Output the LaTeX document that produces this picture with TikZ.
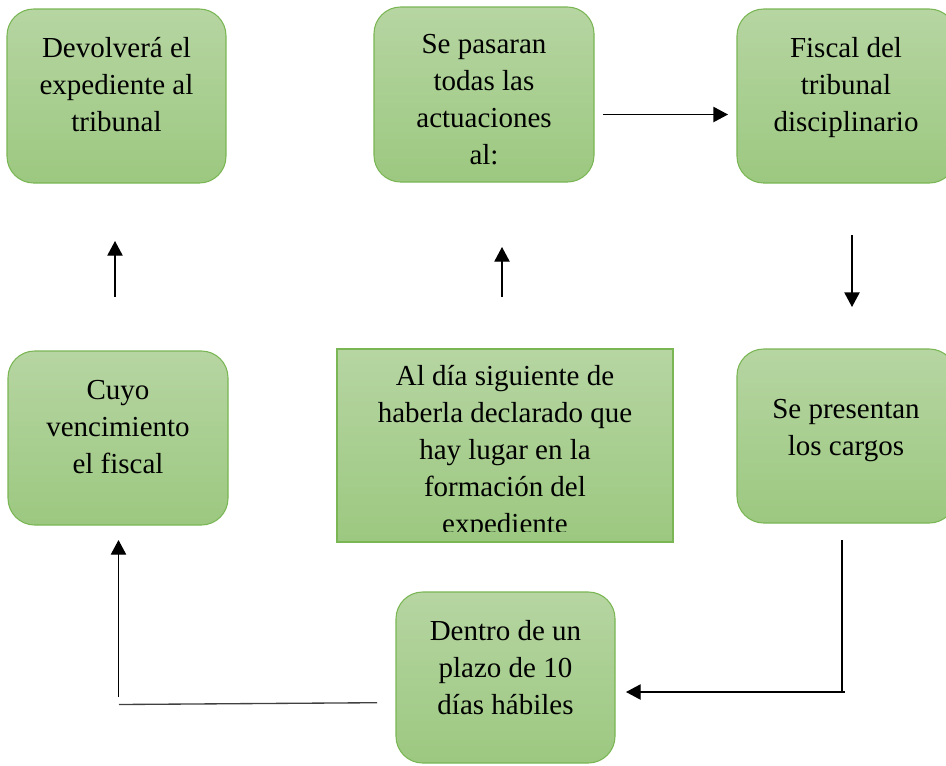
\documentclass[tikz,border=0pt]{standalone}
\usepackage{fontspec}
\setmainfont{Liberation Serif}
\usetikzlibrary{arrows.meta}
\definecolor{gtop}{RGB}{182,213,162}
\definecolor{gbot}{RGB}{156,200,128}
\definecolor{gborder}{RGB}{122,182,84}
\tikzset{
  box/.style={rectangle, rounded corners=20pt, draw=gborder, line width=0.8pt,
    top color=gtop, bottom color=gbot, inner sep=0pt},
  sqbox/.style={rectangle, draw=gborder, line width=0.8pt,
    top color=gtop, bottom color=gbot, inner sep=0pt},
  txt/.style={anchor=north, align=center, inner sep=0pt,
    font=\fontsize{21.75pt}{27.75pt}\selectfont},
  conn/.style={line width=1pt, black},
  arr/.style={conn, -{Triangle[length=11pt,width=11.5pt]}}
}
\begin{document}
\begin{tikzpicture}[x=0.75pt,y=-0.75pt]
\clip (0,0) rectangle (946,765);
\fill[white] (0,0) rectangle (946,765);
% boxes
\node[box, minimum width=164.25pt, minimum height=130.5pt] (A) at (116.5,96) {};
\node[box, minimum width=165pt, minimum height=131.25pt] (B) at (484,94.5) {};
\node[box, minimum width=164.25pt, minimum height=130.5pt] (C) at (846.5,96) {};
\node[box, minimum width=165pt, minimum height=130.5pt] (D) at (118,438) {};
\node[sqbox, minimum width=252pt, minimum height=144.75pt] (E) at (505,445.5) {};
\node[box, minimum width=164.25pt, minimum height=130.5pt] (F) at (846.5,436) {};
\node[box, minimum width=164.25pt, minimum height=128.25pt] (G) at (505.5,677.5) {};
% texts
\node[txt] (tA) at (116.5,31) {\strut Devolverá el\\expediente al\\tribunal};
\node[txt] (tB) at (484,27) {\strut Se pasaran\\todas las\\actuaciones\\al:};
\node[txt] (tC) at (846,31) {\strut Fiscal del\\tribunal\\disciplinario};
\node[txt] (tD) at (118,373) {\strut Cuyo\\vencimiento\\el fiscal};
\begin{scope}
\clip (337,349) rectangle (673,531);
\node[txt] (tE) at (505,359) {\strut Al día siguiente de\\haberla declarado que\\hay lugar en la\\formación del\\expediente};
\end{scope}
\node[txt] (tF) at (846,392) {\strut Se presentan\\los cargos};
\node[txt] (tG) at (505.5,614) {\strut Dentro de un\\plazo de 10\\días hábiles};
% connector coordinates
\coordinate (r1) at (603,114.5);
\coordinate (r2) at (728,114.5);
\coordinate (d1) at (852,235);
\coordinate (d2) at (852,307);
\coordinate (u1a) at (115,297);
\coordinate (u1b) at (115,241);
\coordinate (u2a) at (502,297);
\coordinate (u2b) at (502,247);
\coordinate (v1) at (842,540);
\coordinate (v2) at (842,693);
\coordinate (h1) at (845,692);
\coordinate (h2) at (626,692);
\coordinate (l1) at (377,702.7);
\coordinate (l2) at (119,704.5);
\coordinate (w1) at (118.5,697);
\coordinate (w2) at (118.5,540);
% connectors
\draw[arr] (r1) -- (r2);
\draw[arr] (d1) -- (d2);
\draw[arr] (u1a) -- (u1b);
\draw[arr] (u2a) -- (u2b);
\draw[conn] (v1) -- (v2);
\draw[arr] (h1) -- (h2);
\draw[conn, black!75] (l1) -- (l2);
\draw[arr] (w1) -- (w2);
\end{tikzpicture}
\end{document}
